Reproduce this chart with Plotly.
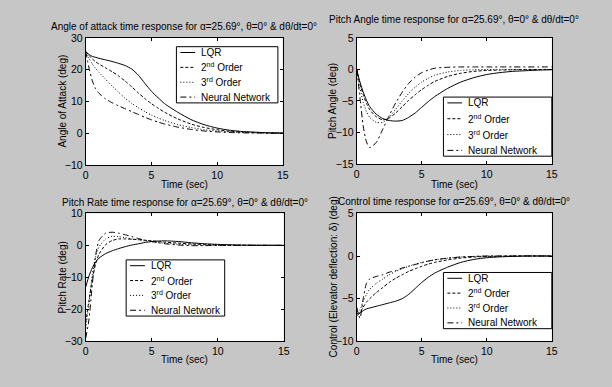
import plotly.graph_objects as go

# Sample times (sec)
t = [0, 0.25, 0.5, 0.75, 1, 1.5, 2, 2.5, 3, 3.5, 4, 4.5, 5, 5.5, 6, 7, 8, 9, 10, 11, 12, 13, 14, 15]

# Angle of attack (deg)
aoa_lqr = [25.7, 24.8, 24.2, 23.9, 23.6, 23.1, 22.6, 22.0, 21.3, 20.2, 18.3, 15.7, 13.2, 11.2, 9.3, 6.6, 4.3, 2.7, 1.6, 0.9, 0.5, 0.3, 0.1, 0.05]
aoa_2nd = [25.7, 24.5, 23.4, 22.5, 21.8, 20.6, 19.4, 18.0, 16.4, 14.6, 12.7, 10.9, 9.3, 7.9, 6.6, 4.5, 2.9, 1.8, 1.1, 0.6, 0.35, 0.2, 0.1, 0.05]
aoa_3rd = [25.7, 23.5, 21.8, 20.4, 19.2, 17.0, 14.9, 12.9, 11.0, 9.4, 8.0, 6.8, 5.7, 4.8, 4.0, 2.7, 1.8, 1.1, 0.7, 0.4, 0.2, 0.1, 0.05, 0.0]
aoa_nn = [25.7, 20.5, 16.5, 14.0, 12.6, 10.8, 9.6, 8.6, 7.7, 6.8, 5.9, 5.0, 4.2, 3.5, 2.9, 1.9, 1.2, 0.7, 0.4, 0.2, 0.1, 0.05, 0.0, 0.0]

# Pitch angle (deg)
pit_lqr = [0.0, -2.0, -3.6, -4.9, -5.9, -7.1, -7.8, -8.1, -8.2, -8.1, -7.6, -6.9, -6.0, -5.1, -4.3, -3.0, -2.0, -1.3, -0.8, -0.5, -0.3, -0.2, -0.1, -0.05]
pit_2nd = [0.0, -2.3, -4.0, -5.4, -6.4, -7.5, -8.0, -7.7, -6.9, -5.9, -4.9, -4.0, -3.2, -2.5, -1.9, -1.1, -0.6, -0.3, -0.15, -0.1, -0.05, 0.0, 0.0, 0.0]
pit_3rd = [0.0, -3.0, -5.2, -6.7, -7.6, -8.4, -8.4, -7.6, -6.3, -5.0, -3.8, -2.8, -2.0, -1.4, -0.9, -0.4, -0.15, -0.05, 0.0, 0.0, 0.0, 0.0, 0.0, 0.0]
pit_nn = [0.0, -4.5, -9.0, -11.5, -12.4, -11.6, -9.5, -7.3, -5.3, -3.6, -2.2, -1.2, -0.5, -0.1, 0.2, 0.35, 0.4, 0.4, 0.4, 0.4, 0.4, 0.4, 0.4, 0.4]

# Pitch rate (deg)
rate_lqr = [-13.0, -9.5, -7.0, -5.2, -4.0, -2.6, -1.7, -1.0, -0.4, 0.1, 0.5, 0.9, 1.2, 1.35, 1.4, 1.2, 0.8, 0.5, 0.3, 0.15, 0.08, 0.04, 0.02, 0.0]
rate_2nd = [-24.0, -17.0, -10.5, -5.8, -2.8, 0.2, 1.5, 2.0, 2.0, 1.9, 1.8, 1.6, 1.4, 1.2, 1.0, 0.7, 0.45, 0.25, 0.12, 0.06, 0.03, 0.0, 0.0, 0.0]
rate_3rd = [-26.0, -18.0, -9.0, -3.5, -0.5, 2.0, 2.8, 2.7, 2.4, 2.0, 1.7, 1.4, 1.1, 0.85, 0.65, 0.35, 0.15, 0.05, 0.0, 0.0, 0.0, 0.0, 0.0, 0.0]
rate_nn = [-29.0, -23.0, -12.0, -3.0, 1.5, 3.8, 4.1, 3.8, 3.3, 2.7, 2.1, 1.6, 1.2, 0.8, 0.5, 0.1, -0.1, -0.1, 0.0, 0.0, 0.0, 0.0, 0.0, 0.0]

# Elevator deflection (deg)
ctl_lqr = [-7.0, -6.7, -6.4, -6.2, -6.1, -5.9, -5.7, -5.5, -5.3, -5.0, -4.5, -3.8, -3.1, -2.5, -2.0, -1.3, -0.75, -0.4, -0.2, -0.1, -0.05, 0.0, 0.0, 0.0]
ctl_2nd = [-6.8, -6.6, -6.0, -5.4, -5.0, -4.3, -3.7, -3.1, -2.6, -2.2, -1.8, -1.5, -1.2, -0.95, -0.75, -0.45, -0.25, -0.12, -0.06, -0.03, 0.0, 0.0, 0.0, 0.0]
ctl_3rd = [-6.5, -6.3, -5.3, -4.5, -3.9, -3.2, -2.7, -2.2, -1.8, -1.5, -1.2, -0.95, -0.75, -0.6, -0.45, -0.25, -0.12, -0.05, 0.0, 0.0, 0.0, 0.0, 0.0, 0.0]
ctl_nn = [-6.0, -7.3, -5.0, -3.2, -2.7, -2.4, -2.2, -1.9, -1.7, -1.4, -1.2, -1.0, -0.8, -0.6, -0.45, -0.25, -0.12, -0.05, 0.0, 0.0, 0.0, 0.0, 0.0, 0.0]

names = ["LQR", "2<sup>nd</sup> Order", "3<sup>rd</sup> Order", "Neural Network"]
dashes = ["solid", "3px,2px", "1px,2px", "6px,3px,2px,3px"]

x_ticks = [0, 5, 10, 15]

W, H = 612, 387
FONT = "Liberation Sans, Arial, sans-serif"

# Panel boxes in pixels: (left, right, top, bottom); legend boxes likewise
panels = [
    dict(box=(84, 284, 33, 164), yr=[-10, 30], yt=[-10, 0, 10, 20, 30],
         series=[aoa_lqr, aoa_2nd, aoa_3rd, aoa_nn],
         title="Angle of attack time response for α=25.69°, θ=0° & dθ/dt=0°", title_y=21,
         ylab="Angle of Attack (deg)", leg=(176, 279, 42, 100), xlab_y=184),
    dict(box=(359, 557, 33, 163), yr=[-15, 5], yt=[-15, -10, -5, 0, 5],
         series=[pit_lqr, pit_2nd, pit_3rd, pit_nn],
         title="Pitch Angle time response for α=25.69°, θ=0° & dθ/dt=0°", title_y=14,
         ylab="Pitch Angle (deg)", leg=(447, 557, 94, 155), xlab_y=184),
    dict(box=(84, 285, 214, 346), yr=[-30, 10], yt=[-30, -20, -10, 0, 10],
         series=[rate_lqr, rate_2nd, rate_3rd, rate_nn],
         title="Pitch Rate time response for α=25.69°, θ=0° & dθ/dt=0°", title_y=203,
         ylab="Pitch Rate (deg)", leg=(125, 225, 262, 320), xlab_y=365),
    dict(box=(359, 557, 214, 346), yr=[-10, 5], yt=[-10, -5, 0, 5],
         series=[ctl_lqr, ctl_2nd, ctl_3rd, ctl_nn],
         title="Control time response for α=25.69°, θ=0° & dθ/dt=0°", title_y=202,
         ylab="Control (Elevator deflection: δ) (deg)", leg=(447, 557, 275, 333), xlab_y=365),
]


def px(x):
    return x / W


def py(y):
    return 1 - y / H


fig = go.Figure()
layout = dict(
    width=W, height=H, margin=dict(l=0, r=0, t=0, b=0),
    paper_bgcolor="#c6c6c6", plot_bgcolor="white",
    font=dict(family=FONT, color="black", size=10),
    showlegend=False,
    annotations=[], shapes=[],
)

for i, p in enumerate(panels, start=1):
    l, r, top, bot = p["box"]
    xa = "x" if i == 1 else f"x{i}"
    ya = "y" if i == 1 else f"y{i}"
    for k in range(4):
        fig.add_trace(go.Scatter(
            x=t, y=p["series"][k], mode="lines", name=names[k],
            line=dict(color="black", width=1, dash=dashes[k], shape="spline", smoothing=0.6),
            xaxis=xa, yaxis=ya,
        ))
    axis_common = dict(showgrid=False, zeroline=False, showline=True, linecolor="black",
                       linewidth=1, mirror="ticks", ticks="inside", ticklen=3,
                       tickcolor="black", tickfont=dict(size=10.5, family=FONT))
    layout["xaxis" if i == 1 else f"xaxis{i}"] = dict(
        domain=[px(l), px(r)], range=[0, 15], tickvals=x_ticks,
        anchor=ya, **axis_common)
    layout["yaxis" if i == 1 else f"yaxis{i}"] = dict(
        domain=[py(bot), py(top)], range=p["yr"], tickvals=p["yt"],
        anchor=xa, **axis_common)

    # boxed key in the style of a MATLAB legend
    lx0, lx1, ly0, ly1 = p["leg"]
    layout["shapes"].append(dict(
        type="rect", xref="paper", yref="paper",
        x0=px(lx0), x1=px(lx1), y0=py(ly1), y1=py(ly0),
        fillcolor="white", line=dict(color="black", width=1), layer="above"))
    step = (ly1 - ly0 - 12) / 3
    for k in range(4):
        yy = ly0 + 6 + k * step
        layout["shapes"].append(dict(
            type="line", xref="paper", yref="paper",
            x0=px(lx0 + 4), x1=px(lx0 + 19), y0=py(yy), y1=py(yy),
            line=dict(color="black", width=1, dash=dashes[k]), layer="above"))
        layout["annotations"].append(dict(
            text=names[k], x=px(lx0 + 23), y=py(yy), xref="paper", yref="paper",
            showarrow=False, xanchor="left", yanchor="middle", font=dict(size=10)))

    cx = (l + r) / 2
    layout["annotations"] += [
        dict(text=p["title"], x=px(cx), y=py(p["title_y"]), xref="paper", yref="paper",
             showarrow=False, xanchor="center", yanchor="middle", font=dict(size=10)),
        dict(text="Time (sec)", x=px(cx), y=py(p["xlab_y"]), xref="paper", yref="paper",
             showarrow=False, xanchor="center", yanchor="middle", font=dict(size=10)),
        dict(text=p["ylab"], x=px(l - 24), y=py((top + bot) / 2), xref="paper", yref="paper",
             showarrow=False, xanchor="center", yanchor="middle", textangle=-90,
             font=dict(size=10)),
    ]

fig.update_layout(**layout)
fig.write_html("out.html")
